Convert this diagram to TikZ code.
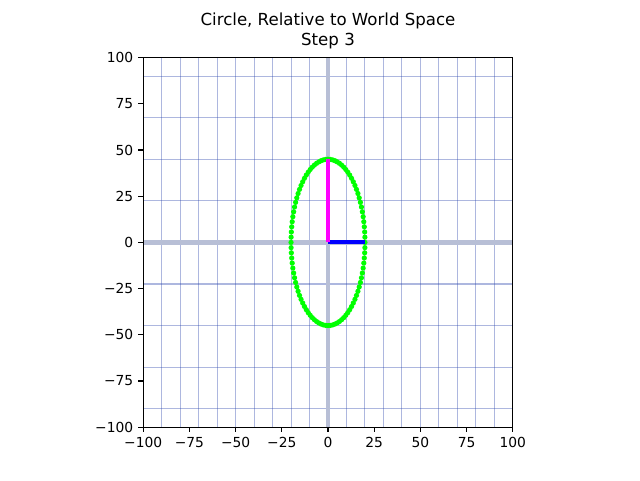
\documentclass[tikz,border=0pt]{standalone}
\usepackage{fontspec}
\setmainfont{DejaVu Sans}
\usetikzlibrary{positioning}
\definecolor{gridcolor}{RGB}{40,66,170}
\definecolor{axiscolor}{RGB}{184,191,214}
\definecolor{dotcolor}{RGB}{0,255,0}
\definecolor{ihatcolor}{RGB}{0,0,255}
\definecolor{jhatcolor}{RGB}{255,0,255}

\begin{document}
\begin{tikzpicture}[
    x=0.01848in, y=0.01848in,
    gridline/.style={draw=gridcolor, opacity=0.38, line width=0.75pt},
    worldaxis/.style={draw=axiscolor, line width=3.6pt},
    ptdot/.style={circle, fill=dotcolor, inner sep=0pt, minimum size=3.8pt},
    basis/.style={line width=3pt},
    tick/.style={line width=0.8pt},
    ticklabel/.style={font=\fontsize{10}{12}\selectfont, inner sep=0pt}
]
\useasboundingbox (-177.49,-128.57) rectangle (168.83,131.17);

% Grid
\foreach \gx in {-90,-80,...,90}
    \draw[gridline] (\gx,-100) -- (\gx,100);
\foreach \gy in {-90,-67.5,...,90}
    \draw[gridline] (-100,\gy) -- (100,\gy);

% World axes
\draw[worldaxis] (-100,0) -- (100,0);
\draw[worldaxis] (0,-100) -- (0,100);

% Circle points
\foreach \i in {0,...,99}
    \node[ptdot] (p\i) at ({20*cos(3.6*\i)},{45*sin(3.6*\i)}) {};

% Basis vectors
\coordinate (origin) at (0,0);
\coordinate (ihat) at (20,0);
\coordinate (jhat) at (0,45);
\draw[basis, ihatcolor] (origin) -- (ihat);
\draw[basis, jhatcolor] (origin) -- (jhat);

% Frame and ticks
\draw[tick] (-100,-100) rectangle (100,100);
\foreach \v/\t in {-100/−100,-75/−75,-50/−50,-25/−25,0/0,25/25,50/50,75/75,100/100} {
    \draw[tick] (\v,-100) -- ++(0,-3.5pt);
    \node[ticklabel, anchor=north] (xl\v) at ([yshift=-7pt]\v,-100) {\t};
    \draw[tick] (-100,\v) -- ++(-3.5pt,0);
    \node[ticklabel, anchor=east] (yl\v) at ([xshift=-7pt]-100,\v) {\t};
}

% Title
\node[font=\fontsize{12}{14.4}\selectfont, align=center, anchor=south, inner sep=0pt] (title)
    at ([yshift=6pt]0,100) {Circle, Relative to World Space\\Step 3};

\end{tikzpicture}
\end{document}
